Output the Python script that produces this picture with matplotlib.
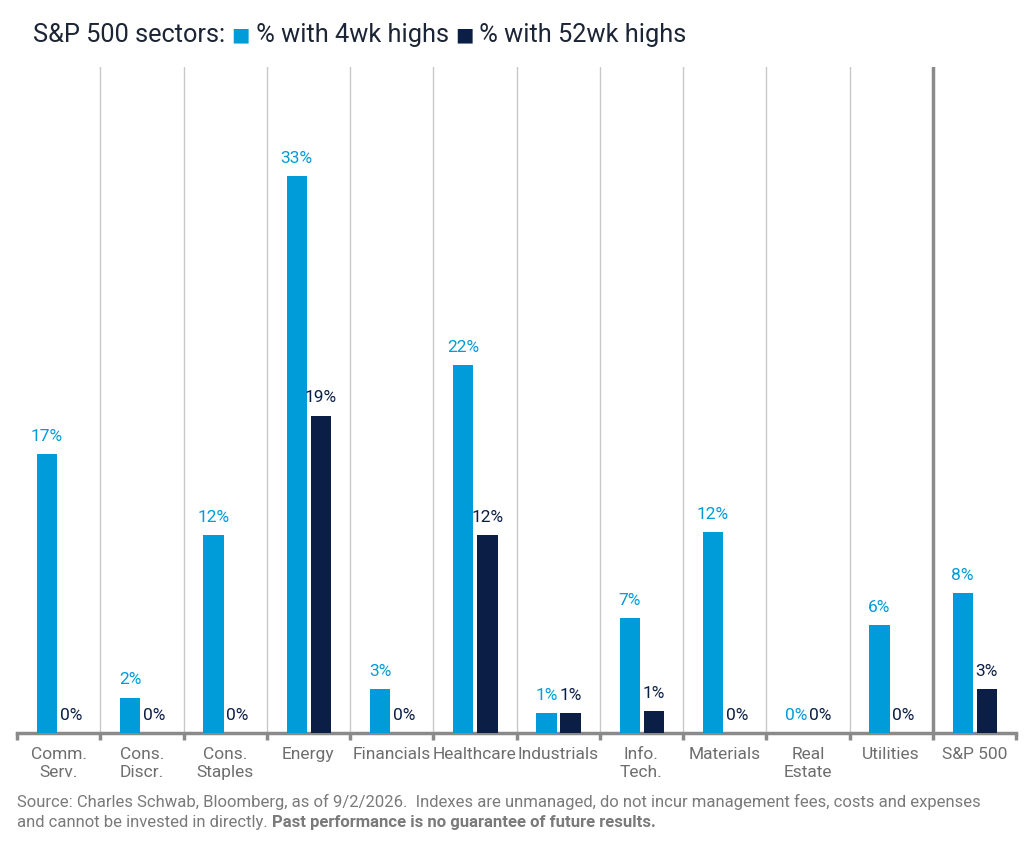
import matplotlib.pyplot as plt
import numpy as np

# ---------- Data ----------
sectors = ["Comm.\nServ.", "Cons.\nDiscr.", "Cons.\nStaples", "Energy", "Financials",
           "Healthcare", "Industrials", "Info.\nTech.", "Materials", "Real\nEstate",
           "Utilities", "S&P 500"]
pct_4wk = [16.5, 2.1, 11.7, 33.0, 2.6, 21.8, 1.2, 6.8, 11.9, 0.0, 6.4, 8.3]
pct_52wk = [0.0, 0.0, 0.0, 18.8, 0.0, 11.7, 1.2, 1.3, 0.0, 0.0, 0.0, 2.6]
labels_4wk = ["17%", "2%", "12%", "33%", "3%", "22%", "1%", "7%", "12%", "0%", "6%", "8%"]
labels_52wk = ["0%", "0%", "0%", "19%", "0%", "12%", "1%", "1%", "0%", "0%", "0%", "3%"]

BLUE = "#009BD9"
NAVY = "#0B1E45"
GRID = "#c8c8c8"
AXIS = "#8a8a8a"
TXT = "#1c2535"
GRAY = "#7a7a7a"

plt.rcParams['font.family'] = ['Roboto', 'DejaVu Sans']

fig = plt.figure(figsize=(10.31, 8.59), dpi=100)
W, H = 1031, 859
ax = fig.add_axes([17 / W, (H - 733) / H, (1016 - 17) / W, (733 - 67) / H])

x = np.arange(len(sectors))
bw = 0.245
ax.bar(x - 0.14, pct_4wk, width=bw, color=BLUE, zorder=3)
ax.bar(x + 0.15, pct_52wk, width=bw, color=NAVY, zorder=3)

for i in range(len(sectors)):
    ax.text(x[i] - 0.14, pct_4wk[i] + 0.6, labels_4wk[i], ha="center", va="bottom",
            color=BLUE, fontsize=12.5)
    ax.text(x[i] + 0.15, pct_52wk[i] + 0.6, labels_52wk[i], ha="center", va="bottom",
            color=NAVY, fontsize=12.5)

ax.set_xlim(-0.5, len(sectors) - 0.5)
ax.set_ylim(0, 39.45)

# vertical separators
for b in np.arange(0.5, len(sectors) - 1, 1.0):
    if b == len(sectors) - 1.5:
        ax.axvline(b, color=AXIS, lw=2.5, zorder=2)
    else:
        ax.axvline(b, color=GRID, lw=1.0, zorder=1)

for s in ["top", "right", "left"]:
    ax.spines[s].set_visible(False)
ax.spines["bottom"].set_color(AXIS)
ax.spines["bottom"].set_linewidth(2.5)
ax.set_yticks([])

ax.set_xticks(np.arange(-0.5, len(sectors), 1.0))
ax.set_xticklabels([])
ax.tick_params(axis="x", direction="out", length=5, width=2.5, color=AXIS)
for i, s in enumerate(sectors):
    ax.text(x[i], -0.85, s, ha="center", va="top", color="#6e6e6e", fontsize=12.5,
            linespacing=1.25)

# ---------- Title with inline legend ----------
fig.canvas.draw()
r = fig.canvas.get_renderer()
cx = 33 / W
ty = 1 - 35 / H
parts = [("S&P 500 sectors: ", TXT), ("\u25A0", BLUE), (" % with 4wk highs ", TXT),
         ("\u25A0", NAVY), (" % with 52wk highs", TXT)]
for txt, col in parts:
    fs = 14 if txt == "\u25A0" else 18.3
    fam = ['DejaVu Sans'] if txt == "\u25A0" else ['Roboto', 'DejaVu Sans']
    t = fig.text(cx, ty, txt, color=col, fontsize=fs, va="center", ha="left", family=fam)
    bb = t.get_window_extent(r)
    cx += bb.width / W

# ---------- Source ----------
fs_src = 12
fig.text(17 / W, 1 - 802 / H,
         "Source: Charles Schwab, Bloomberg, as of 9/2/2026.  Indexes are unmanaged, do not incur management fees, costs and expenses",
         color=GRAY, fontsize=fs_src, va="center", ha="left")
t1 = fig.text(17 / W, 1 - 822 / H, "and cannot be invested in directly. ",
              color=GRAY, fontsize=fs_src, va="center", ha="left")
bb = t1.get_window_extent(r)
fig.text(17 / W + bb.width / W, 1 - 822 / H, "Past performance is no guarantee of future results.",
         color=GRAY, fontsize=fs_src, va="center", ha="left", fontweight="bold")

fig.savefig("out.png", dpi=100)
